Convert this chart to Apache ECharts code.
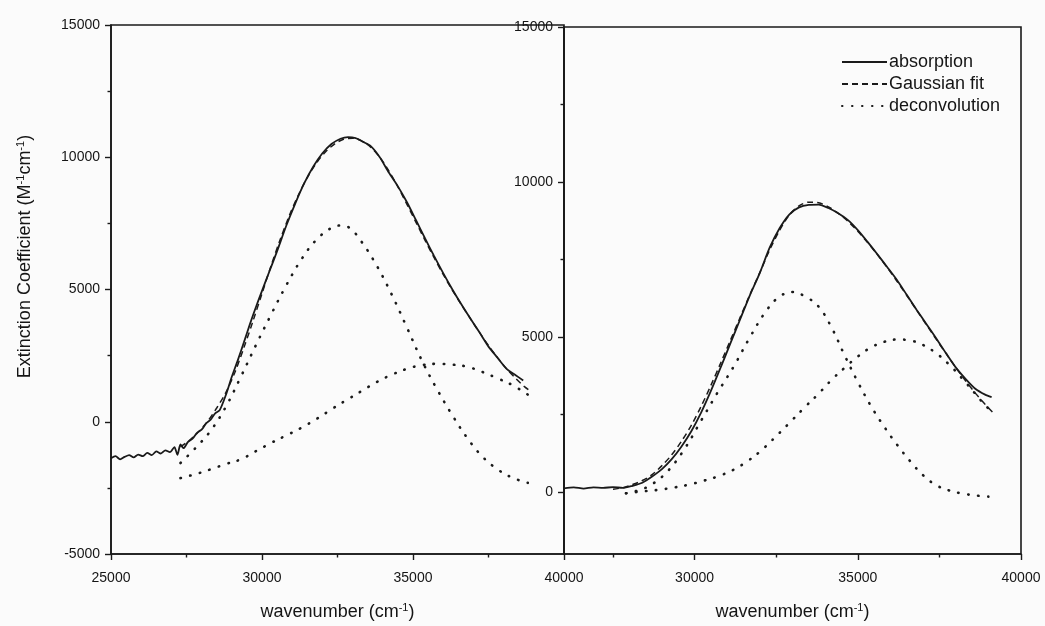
<!DOCTYPE html>
<html>
<head>
<meta charset="utf-8">
<script src="https://cdn.jsdelivr.net/npm/echarts@6/dist/echarts.min.js"></script>
<style>
  html, body { margin: 0; padding: 0; background: #fbfbfb; }
  #chart { width: 1045px; height: 626px; }
</style>
</head>
<body>
<div id="chart"></div>
<script>
// ---- Left panel: measured absorption, two-Gaussian fit and its components ----
const leftAbsorption = [
  [25000,-1380],[25150,-1300],[25300,-1420],[25450,-1330],[25600,-1260],[25750,-1350],
  [25900,-1240],[26050,-1300],[26200,-1180],[26350,-1260],[26500,-1120],[26650,-1200],
  [26800,-1080],[26950,-1150],[27100,-960],[27200,-1250],[27300,-860],[27400,-1000],
  [27550,-760],[27700,-640],[27850,-420],[28000,-300],[28150,-60],[28300,80],[28450,320],
  [28600,440],[28800,1000],[29000,1700],[29200,2330],[29400,3000],[29600,3690],[29800,4340],
  [30000,4950],[30250,5700],[30500,6450],[30800,7400],[31100,8250],[31400,9020],[31700,9650],
  [32000,10150],[32300,10500],[32600,10700],[32850,10760],[33100,10720],[33350,10580],
  [33600,10420],[33900,10000],[34200,9420],[34500,8900],[34800,8300],[35100,7620],[35400,6930],
  [35700,6260],[36000,5620],[36300,5010],[36600,4440],[36900,3900],[37200,3380],[37500,2840],
  [37800,2420],[38100,2000],[38400,1760],[38650,1560]
];
const leftFit = [
  [27300,-950],[27600,-700],[27900,-380],[28200,20],[28500,520],[28800,1100],[29100,1860],
  [29400,2800],[29700,3800],[30000,4850],[30300,5900],[30600,6880],[30900,7780],[31200,8560],
  [31500,9230],[31800,9780],[32100,10200],[32400,10500],[32700,10680],[33000,10720],
  [33300,10620],[33600,10380],[33900,10000],[34200,9480],[34500,8880],[34800,8220],
  [35100,7540],[35400,6860],[35700,6200],[36000,5570],[36300,4980],[36600,4430],[36900,3900],
  [37200,3380],[37500,2880],[37800,2420],[38100,2000],[38400,1640],[38700,1320],[38900,1150]
];
const leftBandA = [
  [27300,-1560],[27800,-990],[28300,-340],[28800,560],[29300,1700],[29800,2900],[30300,4050],
  [30800,5150],[31300,6130],[31800,6880],[32300,7330],[32600,7420],[32900,7330],[33300,6800],
  [33800,5900],[34300,4800],[34800,3560],[35300,2300],[35800,1220],[36300,250],[36800,-620],
  [37300,-1320],[37800,-1800],[38300,-2120],[38800,-2310]
];
const leftBandB = [
  [27300,-2130],[27800,-1980],[28300,-1800],[28800,-1600],[29300,-1420],[29800,-1110],
  [30300,-800],[30800,-520],[31300,-230],[31800,100],[32300,470],[32800,820],[33300,1160],
  [33800,1500],[34300,1780],[34800,2000],[35300,2140],[35800,2190],[36300,2160],[36800,2080],
  [37300,1880],[37800,1640],[38300,1380],[38850,990]
];

// ---- Right panel ----
const rightAbsorption = [
  [26000,120],[26300,150],[26600,110],[26900,150],[27200,130],[27500,160],[27800,130],
  [28100,200],[28400,300],[28700,500],[29000,740],[29300,1060],[29600,1470],[29900,1960],
  [30200,2560],[30500,3260],[30800,4020],[31100,4800],[31400,5580],[31700,6360],[32000,7070],
  [32300,7880],[32600,8500],[32900,8950],[33200,9180],[33500,9260],[33800,9270],[34100,9160],
  [34400,8990],[34700,8770],[35000,8450],[35300,8070],[35600,7670],[35900,7260],[36200,6840],
  [36500,6360],[36800,5880],[37100,5420],[37400,4960],[37700,4480],[38000,4020],[38300,3650],
  [38600,3330],[38900,3140],[39100,3060]
];
const rightFit = [
  [27500,90],[27800,140],[28100,240],[28400,370],[28700,560],[29000,850],[29300,1200],
  [29600,1640],[29900,2150],[30200,2760],[30500,3440],[30800,4160],[31100,4900],[31400,5640],
  [31700,6380],[32000,7080],[32300,7810],[32600,8430],[32900,8930],[33200,9230],[33500,9350],
  [33800,9330],[34100,9200],[34400,8990],[34700,8730],[35000,8410],[35300,8050],[35600,7660],
  [35900,7240],[36200,6800],[36500,6340],[36800,5870],[37100,5400],[37400,4930],[37700,4470],
  [38000,4020],[38300,3590],[38600,3190],[38900,2830],[39180,2520]
];
const rightBandA = [
  [27900,-40],[28300,60],[28700,250],[29200,700],[29700,1400],[30200,2300],[30700,3200],
  [31200,4050],[31700,5000],[32200,5850],[32600,6300],[33000,6450],[33400,6300],[33800,5980],
  [34200,5300],[34600,4400],[35000,3550],[35400,2780],[35800,2120],[36200,1530],[36600,1000],
  [37000,540],[37400,220],[37800,50],[38200,-50],[38600,-110],[39000,-150]
];
const rightBandB = [
  [27900,-40],[28400,20],[28900,70],[29400,150],[29800,230],[30300,370],[30700,500],
  [31200,720],[31600,980],[32000,1300],[32500,1800],[33000,2330],[33400,2760],[33800,3170],
  [34200,3620],[34600,4010],[35000,4370],[35400,4660],[35800,4840],[36200,4920],[36600,4890],
  [37000,4740],[37400,4480],[37800,4110],[38200,3660],[38600,3170],[38900,2800],[39180,2540]
];

// ---- Axis ticks ----
const leftXMajor = [25000, 30000, 35000, 40000];
const rightXMajor = [30000, 35000, 40000];
const rightXMinor = [27500, 32500, 37500];
const rightYMajor = [0, 5000, 10000, 15000];
const rightYMinor = [2500, 7500, 12500];

const INK = '#1a1a1a';
const FONT = '"Liberation Sans", Arial, sans-serif';
const plain = v => String(v);
const LABEL = { color: '#151515', fontSize: 14, fontFamily: FONT, formatter: plain };

const chart = echarts.init(document.getElementById('chart'));

const axisLine = { show: true, onZero: false, lineStyle: { color: INK, width: 1.6 } };
const tick = { show: true, inside: false, length: 6, lineStyle: { color: INK, width: 1.4 } };
const minor = { show: true, splitNumber: 2, length: 3.5, lineStyle: { color: INK, width: 1.4 } };
const hiddenLine = { show: false, onZero: false };

const titleRich = {
  a: { fontSize: 18, fontFamily: FONT, color: '#151515' },
  s: { fontSize: 11, fontFamily: FONT, color: '#151515', padding: [0, 0, 9, 0] }
};
const xTitle = '{a|wavenumber (cm}{s|-1}{a|)}';

function line(name, data, xi, yi, type) {
  const s = {
    name, type: 'line', data, xAxisIndex: xi, yAxisIndex: yi,
    symbol: 'none', animation: false, smooth: 0.25,
    itemStyle: { color: INK },
    lineStyle: { color: INK, width: 1.8 }
  };
  if (type === 'dashed') {
    s.lineStyle = { color: INK, width: 1.5, type: [6, 4] };
    s.smooth = 0.3;
  } else if (type === 'dotted') {
    s.lineStyle = { color: INK, width: 2.6, type: [0.5, 9.5], cap: 'round' };
    s.smooth = 0.4;
  }
  return s;
}

const option = {
  backgroundColor: '#fbfbfb',
  animation: false,
  grid: [
    { left: 111, right: 481, top: 25, bottom: 68, show: true, borderColor: INK, borderWidth: 1.6 },
    { left: 564, right: 24, top: 27, bottom: 68, show: true, borderColor: INK, borderWidth: 1.6 }
  ],
  legend: {
    left: 836, top: 47, orient: 'vertical', itemGap: 2,
    itemWidth: 45, itemHeight: 14,
    itemStyle: { opacity: 0, borderWidth: 0 },
    textStyle: { fontSize: 18, lineHeight: 20, fontFamily: FONT, color: '#151515', padding: [0, 0, 0, -3] },
    data: ['absorption', 'Gaussian fit', 'deconvolution']
  },
  xAxis: [
    {
      gridIndex: 0, type: 'value', min: 25000, max: 40000, interval: 5000, position: 'bottom',
      axisLine, axisTick: tick, minorTick: minor, splitLine: { show: false },
      axisLabel: Object.assign({ margin: 17, showMinLabel: true, showMaxLabel: true,
        customValues: leftXMajor }, LABEL),
      name: xTitle, nameLocation: 'middle', nameGap: 48, nameTextStyle: { rich: titleRich }
    },
    {
      gridIndex: 1, type: 'value', min: 26000, max: 40000, position: 'bottom',
      axisLine, splitLine: { show: false },
      axisTick: Object.assign({ customValues: rightXMajor }, tick),
      axisLabel: Object.assign({ margin: 17, customValues: rightXMajor }, LABEL),
      name: xTitle, nameLocation: 'middle', nameGap: 48, nameTextStyle: { rich: titleRich }
    },
    {
      gridIndex: 1, type: 'value', min: 26000, max: 40000, position: 'bottom',
      axisLine: hiddenLine, splitLine: { show: false }, axisLabel: { show: false },
      axisTick: { show: true, inside: false, length: 3.5, customValues: rightXMinor,
        lineStyle: { color: INK, width: 1.4 } }
    }
  ],
  yAxis: [
    {
      gridIndex: 0, type: 'value', min: -5000, max: 15000, interval: 5000, position: 'left',
      axisLine, axisTick: tick, minorTick: minor, splitLine: { show: false },
      axisLabel: Object.assign({ margin: 11 }, LABEL),
      name: '{a|Extinction Coefficient (M}{s|-1}{a|cm}{s|-1}{a|)}',
      nameLocation: 'middle', nameGap: 76, nameRotate: 90,
      nameTextStyle: { rich: titleRich, padding: [0, 0, 0, 66] }
    },
    {
      gridIndex: 1, type: 'value', min: -2000, max: 15000, position: 'left',
      axisLine, splitLine: { show: false },
      axisTick: Object.assign({ customValues: rightYMajor }, tick),
      axisLabel: Object.assign({ margin: 11, customValues: rightYMajor }, LABEL)
    },
    {
      gridIndex: 1, type: 'value', min: -2000, max: 15000, position: 'left',
      axisLine: hiddenLine, splitLine: { show: false }, axisLabel: { show: false },
      axisTick: { show: true, inside: false, length: 3.5, customValues: rightYMinor,
        lineStyle: { color: INK, width: 1.4 } }
    }
  ],
  series: [
    line('absorption', leftAbsorption, 0, 0, 'solid'),
    line('Gaussian fit', leftFit, 0, 0, 'dashed'),
    line('deconvolution', leftBandA, 0, 0, 'dotted'),
    line('deconvolution', leftBandB, 0, 0, 'dotted'),
    line('absorption', rightAbsorption, 1, 1, 'solid'),
    line('Gaussian fit', rightFit, 1, 1, 'dashed'),
    line('deconvolution', rightBandA, 1, 1, 'dotted'),
    line('deconvolution', rightBandB, 1, 1, 'dotted')
  ]
};

chart.setOption(option);
</script>
</body>
</html>
